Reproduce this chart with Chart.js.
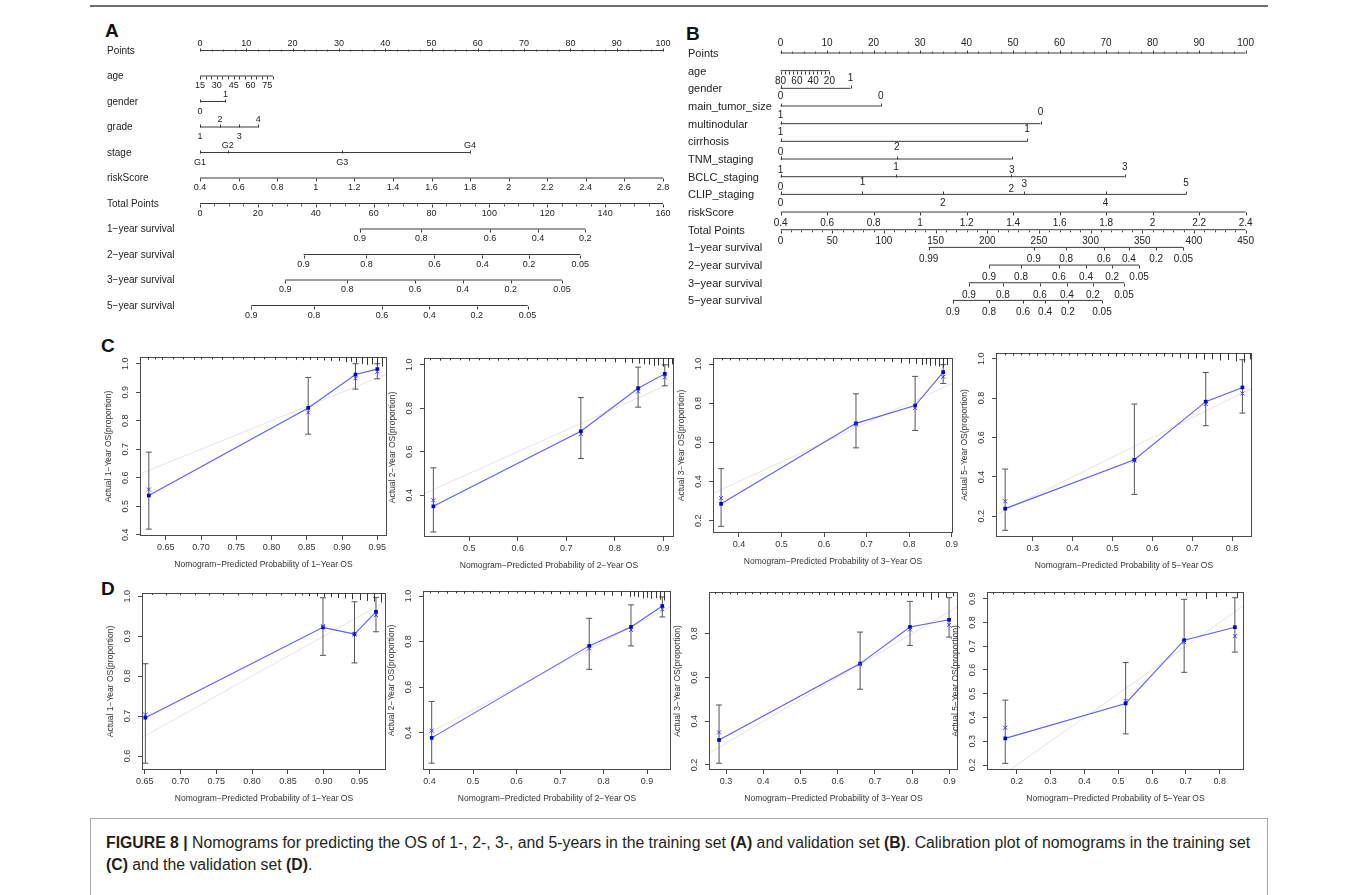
<!DOCTYPE html>
<html>
<head>
<meta charset="utf-8">
<script src="https://cdn.jsdelivr.net/npm/chart.js@4.4.1/dist/chart.umd.min.js"></script>
<style>
body{margin:0;background:#fff;width:1358px;height:895px;overflow:hidden;position:relative;font-family:"Liberation Sans",Arial,Helvetica,sans-serif;}
canvas{position:absolute;}
.rule{position:absolute;left:90px;top:5px;width:1178px;height:2px;background:#6d6e71;}
.tag{position:absolute;font-weight:bold;font-size:19px;line-height:19px;color:#111;}
.caption{position:absolute;left:90px;top:818px;width:1178px;height:80px;border:1px solid #a7a9ac;font-size:15.8px;line-height:22px;color:#231f20;padding:13px 0 0 15px;box-sizing:border-box;white-space:nowrap;}
</style>
</head>
<body>
<div class="rule"></div>
<div class="tag" style="left:105px;top:21px">A</div>
<div class="tag" style="left:686px;top:24px">B</div>
<div class="tag" style="left:101px;top:336px">C</div>
<div class="tag" style="left:101px;top:579px">D</div>
<div class="caption"><b>FIGURE 8 |</b> Nomograms for predicting the OS of 1-, 2-, 3-, and 5-years in the training set <b>(A)</b> and validation set <b>(B)</b>. Calibration plot of nomograms in the training set<br><b>(C)</b> and the validation set <b>(D)</b>.</div>

<script>
const FONT = '"Liberation Sans", Arial, Helvetica, sans-serif';

// ---------- nomogram A (training set) ----------
const aRowNames = ['Points', 'age', 'gender', 'grade', 'stage', 'riskScore', 'Total Points',
  '1\u2212year survival', '2\u2212year survival', '3\u2212year survival', '5\u2212year survival'];
const aAgeTicks = [15, 20, 25, 30, 35, 40, 45, 50, 55, 60, 65, 70, 75, 80];
const aAgeLabels = [15, 30, 45, 60, 75];
const aAgePtsPerYear = 0.2425;
const aGenderLevels = ['0', '1'];
const aGenderPts = [0, 5.5];
const aGradeLevels = ['1', '2', '3', '4'];
const aGradePts = [0, 4.3, 8.5, 12.6];
const aStageLevels = ['G1', 'G2', 'G3', 'G4'];
const aStagePts = [0, 6, 30.7, 58.3];
const aRiskVals = [0.4, 0.6, 0.8, 1, 1.2, 1.4, 1.6, 1.8, 2, 2.2, 2.4, 2.6, 2.8];
const aTotalMax = 160;
const aTotalLabels = [0, 20, 40, 60, 80, 100, 120, 140, 160];
const aSurv1Labels = ['0.9', '0.8', '0.6', '0.4', '0.2'];
const aSurv1Total = [55.2, 76.5, 100.2, 116.8, 133.1];
const aSurv2Labels = ['0.9', '0.8', '0.6', '0.4', '0.2', '0.05'];
const aSurv2Total = [35.8, 57.5, 81.0, 97.6, 113.7, 131.4];
const aSurv3Labels = ['0.9', '0.8', '0.6', '0.4', '0.2', '0.05'];
const aSurv3Total = [29.5, 50.9, 74.3, 90.8, 107.4, 125.1];
const aSurv5Labels = ['0.9', '0.8', '0.6', '0.4', '0.2', '0.05'];
const aSurv5Total = [17.7, 39.4, 62.9, 79.3, 95.6, 113.2];

// ---------- nomogram B (validation set) ----------
const bRowNames = ['Points', 'age', 'gender', 'main_tumor_size', 'multinodular', 'cirrhosis', 'TNM_staging',
  'BCLC_staging', 'CLIP_staging', 'riskScore', 'Total Points',
  '1\u2212year survival', '2\u2212year survival', '3\u2212year survival', '5\u2212year survival'];
const bAgeTicks = [80, 75, 70, 65, 60, 55, 50, 45, 40, 35, 30, 25, 20];
const bAgeLabels = [80, 60, 40, 20];
const bAgePtsPerYear = 0.175;
const bGenderLevels = ['1'];
const bGenderPts = [15.05];
const bTumorLevels = ['0', '0'];
const bTumorPts = [0, 21.55];
const bMultiLevels = ['1', '0'];
const bMultiPts = [0, 55.9];
const bCirrLevels = ['1', '1'];
const bCirrPts = [0, 53.0];
const bTnmLevels = ['0', '1', '2', '3'];
const bTnmPts = [0, 0, 25.0, 49.7];
const bBclcLevels = ['1', '2', '3'];
const bBclcPts = [24.8, 49.6, 74.0];
const bClipLevels = ['0', '1', '2', '3', '4', '5'];
const bClipPts = [0, 17.6, 34.9, 52.4, 69.9, 87.2];
const bRiskVals = [0.4, 0.6, 0.8, 1, 1.2, 1.4, 1.6, 1.8, 2, 2.2, 2.4];
const bTotalMax = 450;
const bTotalLabels = [0, 50, 100, 150, 200, 250, 300, 350, 400, 450];
const bSurv1Labels = ['0.99', '0.9', '0.8', '0.6', '0.4', '0.2', '0.05'];
const bSurv1Total = [143.3, 245.0, 276.4, 312.8, 337.0, 363.4, 389.8];
const bSurv2Labels = ['0.9', '0.8', '0.6', '0.4', '0.2', '0.05'];
const bSurv2Total = [201.7, 232.7, 269.4, 295.6, 320.8, 346.9];
const bSurv3Labels = ['0.9', '0.8', '0.6', '0.4', '0.2', '0.05'];
const bSurv3Total = [182.3, 215.2, 251.0, 277.1, 302.3, 332.3];
const bSurv5Labels = ['0.9', '0.8', '0.6', '0.4', '0.2', '0.05'];
const bSurv5Total = [166.8, 201.7, 234.6, 255.9, 278.1, 311.0];

// ---------- calibration plots (C: training, D: validation) ----------
const c1Pred = [0.626, 0.852, 0.919, 0.950];
const c1Obs = [0.538, 0.845, 0.962, 0.981];
const c1Corr = [0.559, 0.829, 0.949, 0.972];
const c1Lo = [0.420, 0.753, 0.911, 0.947];
const c1Hi = [0.690, 0.952, 1.000, 1.000];
const c1RugX = [0.625,0.635,0.645,0.66,0.675,0.69,0.70,0.715,0.73,0.745,0.76,0.775,0.79,0.805,0.82,0.835,0.845,0.855,0.865,0.875,0.885,0.895,0.905,0.912,0.92,0.928,0.935,0.942,0.95,0.957];
const c1RugH = [.15,.1,.15,.1,.1,.15,.1,.1,.15,.1,.1,.15,.1,.15,.1,.15,.2,.15,.2,.25,.3,.3,.45,.4,.55,.7,.8,.75,.9,1];

const c2Pred = [0.426, 0.730, 0.848, 0.903];
const c2Obs = [0.349, 0.694, 0.892, 0.958];
const c2Corr = [0.377, 0.682, 0.877, 0.942];
const c2Lo = [0.231, 0.569, 0.805, 0.903];
const c2Hi = [0.526, 0.849, 0.989, 1.000];
const c2RugX = [0.42,0.44,0.46,0.48,0.50,0.52,0.54,0.56,0.58,0.60,0.62,0.64,0.66,0.68,0.70,0.72,0.74,0.76,0.78,0.80,0.82,0.835,0.85,0.86,0.87,0.88,0.89,0.90,0.91,0.918];
const c2RugH = [.1,.15,.1,.1,.15,.1,.1,.15,.1,.1,.15,.1,.15,.1,.15,.2,.25,.2,.3,.35,.4,.45,.5,.6,.65,.8,.75,.9,1,.6];

const c3Pred = [0.358, 0.675, 0.814, 0.880];
const c3Obs = [0.286, 0.697, 0.788, 0.959];
const c3Corr = [0.315, 0.692, 0.776, 0.935];
const c3Lo = [0.171, 0.572, 0.661, 0.901];
const c3Hi = [0.466, 0.848, 0.937, 0.997];
const c3RugX = [0.36,0.38,0.40,0.42,0.44,0.46,0.48,0.50,0.52,0.54,0.56,0.58,0.60,0.62,0.64,0.66,0.68,0.70,0.72,0.74,0.76,0.78,0.80,0.815,0.83,0.84,0.85,0.86,0.87,0.88,0.89];
const c3RugH = [.1,.1,.15,.1,.1,.15,.1,.15,.1,.1,.15,.1,.15,.2,.1,.15,.2,.15,.2,.25,.3,.45,.5,.55,.7,.6,.8,.75,.9,1,.7];

const c4Pred = [0.231, 0.555, 0.734, 0.826];
const c4Obs = [0.239, 0.487, 0.782, 0.854];
const c4Corr = [0.276, 0.482, 0.770, 0.824];
const c4Lo = [0.129, 0.311, 0.660, 0.724];
const c4Hi = [0.440, 0.770, 0.930, 0.995];
const c4RugX = [0.23,0.25,0.27,0.29,0.31,0.33,0.35,0.37,0.39,0.41,0.43,0.45,0.47,0.49,0.51,0.53,0.55,0.57,0.59,0.61,0.63,0.65,0.67,0.69,0.71,0.73,0.75,0.77,0.79,0.81,0.83,0.845];
const c4RugH = [.1,.15,.1,.1,.15,.1,.1,.15,.1,.15,.1,.2,.15,.2,.25,.2,.15,.2,.15,.2,.25,.3,.4,.55,.5,.65,.6,.75,.7,.85,1,.6];

const d1Pred = [0.651, 0.899, 0.943, 0.973];
const d1Obs = [0.696, 0.922, 0.905, 0.961];
const d1Corr = [0.703, 0.925, 0.904, 0.953];
const d1Lo = [0.582, 0.852, 0.833, 0.911];
const d1Hi = [0.831, 0.996, 0.986, 0.997];
const d1RugX = [0.66,0.68,0.70,0.72,0.74,0.76,0.78,0.80,0.82,0.84,0.86,0.87,0.88,0.89,0.90,0.91,0.92,0.93,0.94,0.95,0.96,0.97,0.98];
const d1RugH = [.05,.1,.1,.1,.1,.1,.1,.1,.15,.1,.15,.1,.2,.25,.3,.35,.45,.5,.6,.7,.8,.9,1];

const d2Pred = [0.405, 0.767, 0.863, 0.935];
const d2Obs = [0.377, 0.781, 0.864, 0.956];
const d2Corr = [0.409, 0.770, 0.851, 0.942];
const d2Lo = [0.266, 0.678, 0.781, 0.908];
const d2Hi = [0.537, 0.902, 0.961, 0.996];
const d2RugX = [0.40,0.42,0.44,0.46,0.48,0.50,0.52,0.54,0.56,0.58,0.60,0.62,0.64,0.66,0.68,0.70,0.72,0.74,0.76,0.78,0.80,0.82,0.84,0.86,0.87,0.88,0.89,0.90,0.91,0.92,0.93,0.94];
const d2RugH = [.1,.1,.15,.1,.15,.1,.1,.15,.1,.15,.1,.15,.2,.15,.2,.2,.25,.2,.5,.3,.35,.4,.45,.55,.5,.6,.75,.65,.8,.7,.9,1];

const d3Pred = [0.281, 0.660, 0.794, 0.899];
const d3Obs = [0.314, 0.663, 0.830, 0.863];
const d3Corr = [0.349, 0.660, 0.819, 0.840];
const d3Lo = [0.208, 0.546, 0.746, 0.784];
const d3Hi = [0.474, 0.807, 0.947, 0.964];
const d3RugX = [0.27,0.29,0.31,0.33,0.35,0.37,0.39,0.41,0.43,0.45,0.47,0.49,0.51,0.53,0.55,0.57,0.59,0.61,0.63,0.65,0.67,0.69,0.71,0.73,0.75,0.77,0.79,0.81,0.83,0.85,0.87,0.89,0.91];
const d3RugH = [.1,.1,.1,.15,.1,.1,.15,.1,.1,.15,.1,.1,.15,.1,.2,.15,.3,.2,.2,.15,.2,.25,.2,.3,.25,.3,.35,.4,.5,.9,.6,.55,.4];

const d4Pred = [0.166, 0.522, 0.695, 0.845];
const d4Obs = [0.312, 0.459, 0.725, 0.780];
const d4Corr = [0.357, 0.470, 0.717, 0.742];
const d4Lo = [0.207, 0.331, 0.590, 0.675];
const d4Hi = [0.473, 0.631, 0.897, 0.904];
const d4RugX = [0.13,0.16,0.19,0.22,0.25,0.28,0.31,0.34,0.37,0.40,0.43,0.46,0.49,0.52,0.55,0.58,0.61,0.64,0.67,0.70,0.73,0.76,0.79,0.82,0.85];
const d4RugH = [.15,.1,.15,.1,.15,.1,.15,.2,.15,.2,.25,.2,.3,.35,.3,.4,.35,.3,.45,.4,.5,.9,.6,.5,.7];

const xTicks1 = [0.65, 0.70, 0.75, 0.80, 0.85, 0.90, 0.95];

// ---------- nomogram rows ----------
function range(a, b, step) {
  const out = [];
  for (let v = a; v <= b + 1e-9; v += step) out.push(+v.toFixed(4));
  return out;
}

function axisRow(row, vals, toPts, labels, dy, dir, minor) {
  const pts = vals.map(toPts);
  const ticks = pts.map(p => ({p, len: 3}));
  (minor || []).forEach(v => ticks.push({p: toPts(v), len: 1.8}));
  return {
    row, dir, ticks,
    seg: [Math.min(...pts), Math.max(...pts)],
    labels: labels.map((t, i) => ({t: String(t), p: pts[i], dy}))
  };
}

function catRow(row, levels, pts, dys, segStart) {
  const all = segStart === undefined ? pts : [segStart, ...pts];
  return {
    row, dir: -1,
    ticks: all.map(p => ({p, len: 3})),
    seg: [Math.min(...all), Math.max(...all)],
    labels: levels.map((t, i) => ({t, p: pts[i], dy: dys[i]}))
  };
}

const riskFmt = v => (Number.isInteger(v) ? String(v) : v.toFixed(1));

const aTP = t => t / aTotalMax * 100;
const aRows = [
  axisRow(0, range(0, 100, 10), v => v, range(0, 100, 10), -8, -1, range(2.5, 97.5, 2.5).filter(v => v % 10)),
  axisRow(1, aAgeTicks, a => (a - 15) * aAgePtsPerYear, [], 0, 1),
  catRow(2, aGenderLevels, aGenderPts, [9, -8]),
  catRow(3, aGradeLevels, aGradePts, [9, -8, 9, -8]),
  catRow(4, aStageLevels, aStagePts, [9, -8, 9, -8]),
  axisRow(5, aRiskVals, v => (v - 0.4) / 2.4 * 100, aRiskVals.map(riskFmt), 9, 1),
  axisRow(6, aTotalLabels, aTP, aTotalLabels, 9, 1, range(5, 155, 5).filter(v => v % 20)),
  axisRow(7, aSurv1Total, aTP, aSurv1Labels, 9, 1),
  axisRow(8, aSurv2Total, aTP, aSurv2Labels, 9, 1),
  axisRow(9, aSurv3Total, aTP, aSurv3Labels, 9, 1),
  axisRow(10, aSurv5Total, aTP, aSurv5Labels, 9, 1)
];
aRows[1].labels = aAgeLabels.map(a => ({t: String(a), p: (a - 15) * aAgePtsPerYear, dy: 9}));

const bTP = t => t / bTotalMax * 100;
const bAge = a => (80 - a) * bAgePtsPerYear;
const bRows = [
  axisRow(0, range(0, 100, 10), v => v, range(0, 100, 10), -10, -1, range(2.5, 97.5, 2.5).filter(v => v % 10)),
  axisRow(1, bAgeTicks, bAge, [], 0, 1),
  catRow(2, bGenderLevels, bGenderPts, [-10], 0),
  catRow(3, bTumorLevels, bTumorPts, [-10, -10]),
  catRow(4, bMultiLevels, bMultiPts, [-9, -12]),
  catRow(5, bCirrLevels, bCirrPts, [-9, -12]),
  catRow(6, bTnmLevels, bTnmPts, [-7, 11, -12, 11]),
  catRow(7, bBclcLevels, bBclcPts, [-10, 12, -10], 0),
  catRow(8, bClipLevels, bClipPts, [-7, -12, 9, -10, 9, -11]),
  axisRow(9, bRiskVals, v => (v - 0.4) / 2.0 * 100, bRiskVals.map(riskFmt), 11, 1),
  axisRow(10, bTotalLabels, bTP, bTotalLabels, 11, 1, range(10, 440, 10).filter(v => v % 50)),
  axisRow(11, bSurv1Total, bTP, bSurv1Labels, 12, 1),
  axisRow(12, bSurv2Total, bTP, bSurv2Labels, 12, 1),
  axisRow(13, bSurv3Total, bTP, bSurv3Labels, 12, 1),
  axisRow(14, bSurv5Total, bTP, bSurv5Labels, 12, 1)
];
bRows[1].labels = bAgeLabels.map(a => ({t: String(a), p: bAge(a), dy: 10}));
bRows[8].labels.push({t: '0', p: 0, dy: 9});

function nomogram(names, rows, pos) {
  const cv = document.createElement('canvas');
  cv.width = pos.w; cv.height = pos.h;
  cv.style.left = pos.left + 'px';
  cv.style.top = pos.top + 'px';
  document.body.appendChild(cv);

  const drawer = {
    id: 'nomoText',
    afterDatasetsDraw(chart) {
      const {ctx, scales: {x, y}} = chart;
      ctx.save();
      ctx.strokeStyle = '#3a3a3a';
      ctx.fillStyle = '#222';
      ctx.lineWidth = 1;
      ctx.textBaseline = 'middle';
      rows.forEach(r => {
        const py = Math.round(y.getPixelForValue(r.row)) + 0.5;
        ctx.font = pos.nameFont + 'px ' + FONT;
        ctx.textAlign = 'left';
        ctx.fillText(names[r.row], pos.nameX - pos.left, py);
        r.ticks.forEach(tk => {
          const px = Math.round(x.getPixelForValue(tk.p)) + 0.5;
          ctx.beginPath();
          ctx.moveTo(px, py);
          ctx.lineTo(px, py + r.dir * tk.len);
          ctx.stroke();
        });
        ctx.font = pos.tickFont + 'px ' + FONT;
        ctx.textAlign = 'center';
        r.labels.forEach(lb => {
          ctx.fillText(lb.t, x.getPixelForValue(lb.p), py + lb.dy);
        });
      });
      ctx.restore();
    }
  };

  new Chart(cv, {
    type: 'line',
    data: {
      datasets: rows.map(r => ({
        data: [{x: r.seg[0], y: r.row}, {x: r.seg[1], y: r.row}],
        borderColor: '#3a3a3a',
        borderWidth: 1,
        pointRadius: 0,
        clip: false
      }))
    },
    options: {
      responsive: false,
      animation: false,
      events: [],
      layout: {padding: {left: pos.x0 - pos.left, right: pos.left + pos.w - pos.x1, top: pos.y0 - pos.top, bottom: pos.top + pos.h - pos.y1}},
      plugins: {legend: {display: false}, tooltip: {enabled: false}},
      scales: {
        x: {type: 'linear', min: 0, max: 100, display: false},
        y: {type: 'linear', min: 0, max: names.length - 1, reverse: true, display: false}
      }
    },
    plugins: [drawer]
  });
}

nomogram(aRowNames, aRows, {left: 95, top: 15, w: 585, h: 320, x0: 200, x1: 663, y0: 50.5, y1: 305.5, nameX: 107, nameFont: 10, tickFont: 9});
nomogram(bRowNames, bRows, {left: 680, top: 15, w: 580, h: 310, x0: 780.6, x1: 1245.6, y0: 53, y1: 300.4, nameX: 688, nameFont: 11, tickFont: 10});

// ---------- calibration plots ----------
function calibPlot(box, lim, d) {
  const cv = document.createElement('canvas');
  cv.width = box.r - box.l + 48 + 6;
  cv.height = box.b - box.t + 6 + 40;
  cv.style.left = (box.l - 48) + 'px';
  cv.style.top = (box.t - 6) + 'px';
  document.body.appendChild(cv);

  const bars = [];
  d.pred.forEach((p, i) => {
    bars.push({x: p, y: d.lo[i]}, {x: p, y: d.hi[i]}, {x: p, y: null});
  });

  const decor = {
    id: 'calibDecor',
    afterDraw(chart) {
      const {ctx, chartArea: a, scales: {x, y}} = chart;
      ctx.save();
      ctx.strokeStyle = '#4a4a4a';
      ctx.lineWidth = 1;
      ctx.strokeRect(a.left + 0.5, a.top + 0.5, a.right - a.left - 1, a.bottom - a.top - 1);
      ctx.strokeStyle = '#333';
      d.rugX.forEach((v, i) => {
        const px = Math.round(x.getPixelForValue(v)) + 0.5;
        ctx.beginPath();
        ctx.moveTo(px, a.top);
        ctx.lineTo(px, a.top + 1.5 + d.rugH[i] * d.rugMax);
        ctx.stroke();
      });
      ctx.fillStyle = '#333';
      ctx.font = '9px ' + FONT;
      ctx.textAlign = 'center';
      ctx.textBaseline = 'middle';
      d.yTicks.forEach(v => {
        ctx.save();
        ctx.translate(a.left - 14, y.getPixelForValue(v));
        ctx.rotate(-Math.PI / 2);
        ctx.fillText(v.toFixed(1), 0, 0);
        ctx.restore();
      });
      ctx.restore();
    }
  };

  new Chart(cv, {
    type: 'line',
    data: {
      datasets: [
        {data: d.pred.map((p, i) => ({x: p, y: d.corr[i]})), showLine: false, pointStyle: 'crossRot',
          pointRadius: 2.8, pointBorderColor: '#3b3bff', pointBorderWidth: 1, borderColor: '#3b3bff'},
        {data: d.pred.map((p, i) => ({x: p, y: d.obs[i]})), borderColor: '#5c5cff', borderWidth: 1.1,
          pointStyle: 'rect', pointRadius: 2.6, pointBackgroundColor: '#0000c8', pointBorderColor: '#0000c8', pointBorderWidth: 0},
        {data: bars, borderColor: '#555', borderWidth: 1, spanGaps: false, pointStyle: 'line',
          pointRadius: 3, pointBorderColor: '#555', pointBorderWidth: 1},
        {data: [{x: 0, y: 0}, {x: 1, y: 1}], borderColor: '#e4e4e4', borderWidth: 1, pointRadius: 0}
      ]
    },
    options: {
      responsive: false,
      animation: false,
      events: [],
      layout: {padding: {top: 6, right: 6, left: 0, bottom: 0}},
      plugins: {legend: {display: false}, tooltip: {enabled: false}},
      scales: {
        x: {
          type: 'linear', min: lim.x0, max: lim.x1,
          afterBuildTicks: s => { s.ticks = d.xTicks.map(v => ({value: v})); },
          afterFit: s => { s.height = 40; },
          grid: {display: true, drawOnChartArea: false, drawTicks: true, tickLength: 4, color: '#4a4a4a'},
          border: {display: false},
          ticks: {autoSkip: false, maxRotation: 0, minRotation: 0, padding: 2, color: '#333',
            font: {size: 9, family: FONT}, callback: v => v.toFixed(d.xDig)},
          title: {display: true, text: 'Nomogram\u2212Predicted Probability of ' + d.yr + '\u2212Year OS',
            color: '#333', font: {size: 8.5, family: FONT}, padding: {top: 0, bottom: 6}}
        },
        y: {
          type: 'linear', min: lim.y0, max: lim.y1,
          afterBuildTicks: s => { s.ticks = d.yTicks.map(v => ({value: v})); },
          afterFit: s => { s.width = 48; },
          grid: {display: true, drawOnChartArea: false, drawTicks: true, tickLength: 4, color: '#4a4a4a'},
          border: {display: false},
          ticks: {display: false},
          title: {display: true, text: 'Actual ' + d.yr + '\u2212Year OS(proportion)',
            color: '#333', font: {size: 8.5, family: FONT}, padding: {top: 12, bottom: 0}}
        }
      }
    },
    plugins: [decor]
  });
}

calibPlot({l: 140, r: 387, t: 357, b: 536}, {x0: 0.6135, x1: 0.9637, y0: 0.396, y1: 1.0235},
  {pred: c1Pred, obs: c1Obs, corr: c1Corr, lo: c1Lo, hi: c1Hi, rugX: c1RugX, rugH: c1RugH, rugMax: 8,
   xTicks: xTicks1, xDig: 2, yTicks: [0.4, 0.5, 0.6, 0.7, 0.8, 0.9, 1.0], yr: 1});
calibPlot({l: 424, r: 674, t: 358, b: 537}, {x0: 0.4067, x1: 0.922, y0: 0.208, y1: 1.031},
  {pred: c2Pred, obs: c2Obs, corr: c2Corr, lo: c2Lo, hi: c2Hi, rugX: c2RugX, rugH: c2RugH, rugMax: 8,
   xTicks: [0.5, 0.6, 0.7, 0.8, 0.9], xDig: 1, yTicks: [0.4, 0.6, 0.8, 1.0], yr: 2});
calibPlot({l: 713, r: 954, t: 358, b: 533}, {x0: 0.339, x1: 0.903, y0: 0.137, y1: 1.031},
  {pred: c3Pred, obs: c3Obs, corr: c3Corr, lo: c3Lo, hi: c3Hi, rugX: c3RugX, rugH: c3RugH, rugMax: 8,
   xTicks: [0.4, 0.5, 0.6, 0.7, 0.8, 0.9], xDig: 1, yTicks: [0.2, 0.4, 0.6, 0.8, 1.0], yr: 3});
calibPlot({l: 996, r: 1252, t: 353, b: 537}, {x0: 0.208, x1: 0.850, y0: 0.095, y1: 1.029},
  {pred: c4Pred, obs: c4Obs, corr: c4Corr, lo: c4Lo, hi: c4Hi, rugX: c4RugX, rugH: c4RugH, rugMax: 8,
   xTicks: [0.3, 0.4, 0.5, 0.6, 0.7, 0.8], xDig: 1, yTicks: [0.2, 0.4, 0.6, 0.8, 1.0], yr: 5});

calibPlot({l: 142, r: 386, t: 593, b: 770}, {x0: 0.6463, x1: 0.987, y0: 0.565, y1: 1.008},
  {pred: d1Pred, obs: d1Obs, corr: d1Corr, lo: d1Lo, hi: d1Hi, rugX: d1RugX, rugH: d1RugH, rugMax: 8,
   xTicks: xTicks1, xDig: 2, yTicks: [0.6, 0.7, 0.8, 0.9, 1.0], yr: 1});
calibPlot({l: 423, r: 671, t: 591, b: 770}, {x0: 0.385, x1: 0.955, y0: 0.236, y1: 1.022},
  {pred: d2Pred, obs: d2Obs, corr: d2Corr, lo: d2Lo, hi: d2Hi, rugX: d2RugX, rugH: d2RugH, rugMax: 8,
   xTicks: [0.4, 0.5, 0.6, 0.7, 0.8, 0.9], xDig: 1, yTicks: [0.4, 0.6, 0.8, 1.0], yr: 2});
calibPlot({l: 709, r: 958, t: 592, b: 770}, {x0: 0.254, x1: 0.923, y0: 0.177, y1: 0.99},
  {pred: d3Pred, obs: d3Obs, corr: d3Corr, lo: d3Lo, hi: d3Hi, rugX: d3RugX, rugH: d3RugH, rugMax: 7,
   xTicks: [0.3, 0.4, 0.5, 0.6, 0.7, 0.8, 0.9], xDig: 1, yTicks: [0.2, 0.4, 0.6, 0.8], yr: 3});
calibPlot({l: 987, r: 1244, t: 592, b: 770}, {x0: 0.112, x1: 0.872, y0: 0.179, y1: 0.928},
  {pred: d4Pred, obs: d4Obs, corr: d4Corr, lo: d4Lo, hi: d4Hi, rugX: d4RugX, rugH: d4RugH, rugMax: 6,
   xTicks: [0.2, 0.3, 0.4, 0.5, 0.6, 0.7, 0.8], xDig: 1, yTicks: [0.2, 0.3, 0.4, 0.5, 0.6, 0.7, 0.8, 0.9], yr: 5});
</script>
</body>
</html>
